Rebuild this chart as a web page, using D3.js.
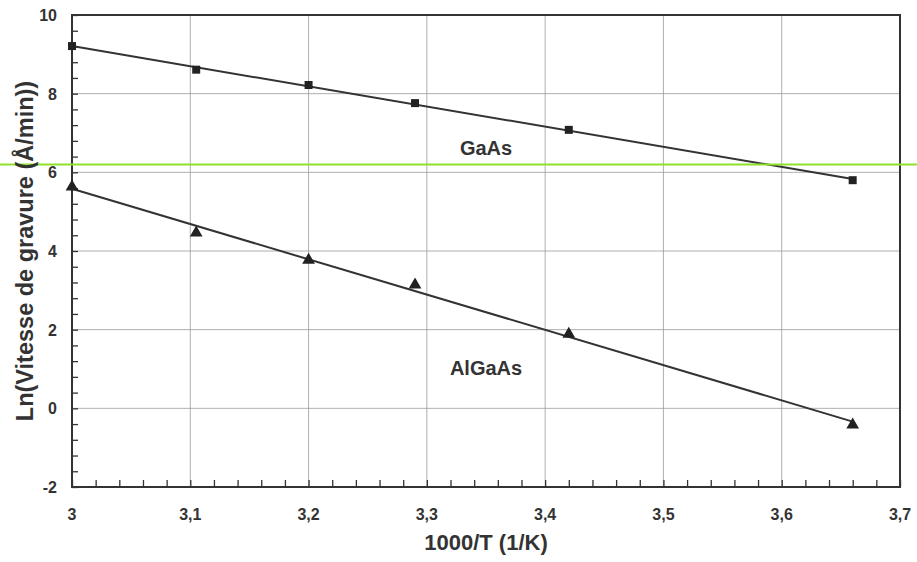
<!DOCTYPE html>
<html>
<head>
<meta charset="utf-8">
<script src="https://cdn.jsdelivr.net/npm/d3@7"></script>
<style>
  body { margin: 0; background: #fff; }
  text { font-family: Arial, "Liberation Sans", sans-serif; }
</style>
</head>
<body>
<svg id="chart"></svg>
<script>
// 1000/T values (same for both samples)
const invT = [3.0, 3.105, 3.2, 3.29, 3.42, 3.66];
// Ln(etch rate)
const gaasLn = [9.21, 8.61, 8.22, 7.76, 7.08, 5.80];
const algaasLn = [5.63, 4.46, 3.77, 3.14, 1.89, -0.42];

const xTicks = [3, 3.1, 3.2, 3.3, 3.4, 3.5, 3.6, 3.7];
const yTicks = [-2, 0, 2, 4, 6, 8, 10];
const greenLevel = 6.2;

const width = 917, height = 562;
const margin = { left: 72, right: 17, top: 15, bottom: 75 };

const svg = d3.select('#chart').attr('width', width).attr('height', height);

const x = d3.scaleLinear().domain([3, 3.7]).range([margin.left, width - margin.right]);
const y = d3.scaleLinear().domain([-2, 10]).range([height - margin.bottom, margin.top]);

const fmt = d => String(d).replace('.', ',');

// grid
svg.append('g').selectAll('line').data(xTicks.slice(1, -1)).enter().append('line')
   .attr('x1', d => x(d)).attr('x2', d => x(d))
   .attr('y1', y(-2)).attr('y2', y(10))
   .attr('stroke', '#9a9a9a').attr('stroke-width', 0.8);
svg.append('g').selectAll('line').data(yTicks.slice(1, -1)).enter().append('line')
   .attr('x1', x(3)).attr('x2', x(3.7))
   .attr('y1', d => y(d)).attr('y2', d => y(d))
   .attr('stroke', '#9a9a9a').attr('stroke-width', 0.8);

// bottom axis, ticks inward
const xAxis = svg.append('g')
   .attr('transform', `translate(0,${y(-2)})`)
   .call(d3.axisBottom(x).tickValues(d3.range(0, 36).map(i => 3 + i * 0.02))
        .tickSizeInner(-7).tickSizeOuter(0).tickFormat(''));
xAxis.selectAll('.tick line').attr('stroke', '#333').attr('stroke-width', 1.3);
xAxis.select('.domain').remove();

xAxis.selectAll('.lbl').data(xTicks).enter().append('text')
   .attr('class', 'lbl')
   .attr('x', d => x(d)).attr('y', 33)
   .attr('text-anchor', 'middle')
   .attr('font-size', 16).attr('font-weight', 'bold').attr('fill', '#333')
   .text(fmt);

// left axis, ticks inward
const yAxis = svg.append('g')
   .attr('transform', `translate(${x(3)},0)`)
   .call(d3.axisLeft(y).tickValues(d3.range(0, 31).map(i => -2 + i * 0.4))
        .tickSizeInner(-6).tickSizeOuter(0).tickFormat(''));
yAxis.selectAll('.tick line').attr('stroke', '#333').attr('stroke-width', 1.3);
yAxis.select('.domain').remove();

yAxis.selectAll('.lbl').data(yTicks).enter().append('text')
   .attr('class', 'lbl')
   .attr('x', -15).attr('y', d => y(d) + 6)
   .attr('text-anchor', 'end')
   .attr('font-size', 16).attr('font-weight', 'bold').attr('fill', '#333')
   .text(d => d);

// frame
svg.append('rect')
   .attr('x', x(3)).attr('y', y(10))
   .attr('width', x(3.7) - x(3)).attr('height', y(-2) - y(10))
   .attr('fill', 'none').attr('stroke', '#333').attr('stroke-width', 2);

// least-squares trend line through each series
function fit(ys) {
    const mx = d3.mean(invT), my = d3.mean(ys);
    const b = d3.sum(invT, (v, i) => (v - mx) * (ys[i] - my)) / d3.sum(invT, v => (v - mx) ** 2);
    return v => my + b * (v - mx);
}

const series = [
    { vals: gaasLn, sym: d3.symbolSquare, size: 64 },
    { vals: algaasLn, sym: d3.symbolTriangle, size: 70 }
];

series.forEach(s => {
    const f = fit(s.vals);
    const ends = [invT[0], invT[invT.length - 1]];
    svg.append('line')
       .attr('x1', x(ends[0])).attr('y1', y(f(ends[0])))
       .attr('x2', x(ends[1])).attr('y2', y(f(ends[1])))
       .attr('stroke', '#333').attr('stroke-width', 2);

    svg.append('g').selectAll('path').data(s.vals).enter().append('path')
       .attr('d', d3.symbol().type(s.sym).size(s.size))
       .attr('transform', (d, i) => `translate(${x(invT[i])},${y(d)})`)
       .attr('fill', '#222');
});

// green reference line across the whole picture
svg.append('line')
   .attr('x1', 0).attr('x2', width)
   .attr('y1', y(greenLevel)).attr('y2', y(greenLevel))
   .attr('stroke', '#8fe02a').attr('stroke-width', 2);

// series labels
svg.append('text').attr('x', x(3.35)).attr('y', y(6.44))
   .attr('text-anchor', 'middle').attr('font-size', 20).attr('font-weight', 'bold').attr('fill', '#333')
   .text('GaAs');
svg.append('text').attr('x', x(3.35)).attr('y', y(0.85))
   .attr('text-anchor', 'middle').attr('font-size', 20).attr('font-weight', 'bold').attr('fill', '#333')
   .text('AlGaAs');

// axis titles
svg.append('text')
   .attr('x', (x(3) + x(3.7)) / 2).attr('y', 550)
   .attr('text-anchor', 'middle').attr('font-size', 22).attr('font-weight', 'bold').attr('fill', '#333')
   .text('1000/T (1/K)');

svg.append('text')
   .attr('transform', `translate(33,${(y(10) + y(-2)) / 2}) rotate(-90)`)
   .attr('text-anchor', 'middle').attr('font-size', 23.5).attr('font-weight', 'bold').attr('fill', '#333')
   .text('Ln(Vitesse de gravure (Å/min))');
</script>
</body>
</html>
